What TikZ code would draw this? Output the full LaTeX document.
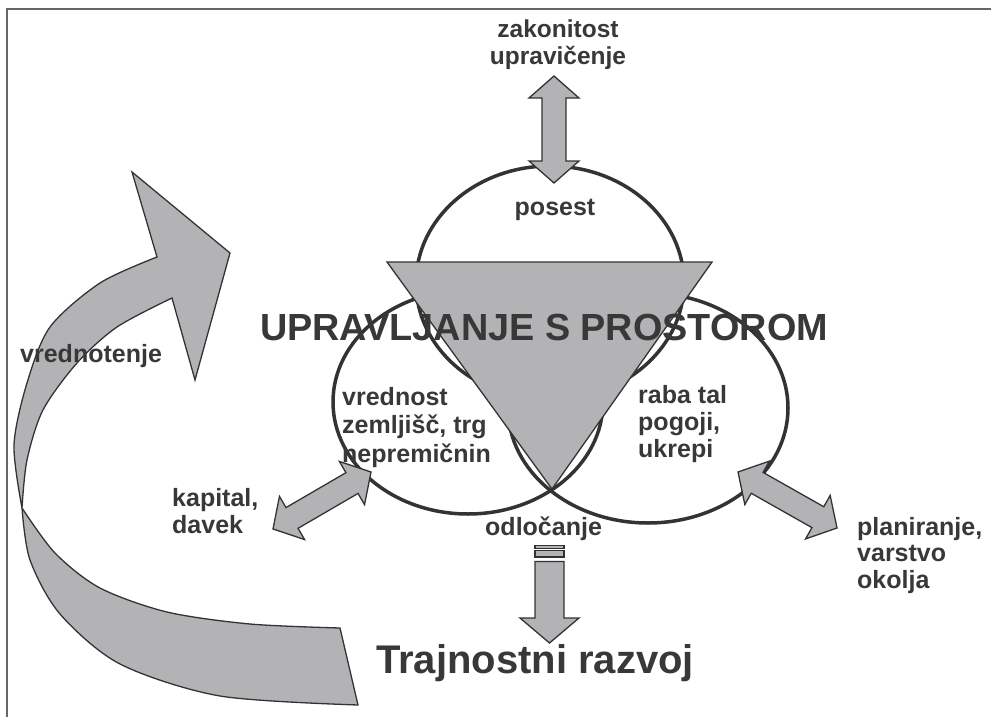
\documentclass[tikz,border=0pt]{standalone}
\usepackage{fontspec}
\setmainfont{Liberation Sans}
\usepackage{tikz}
\usetikzlibrary{calc,shapes.geometric}
\definecolor{ink}{HTML}{333333}
\definecolor{arr}{HTML}{B3B3B6}
\definecolor{txt}{HTML}{383838}
\newcommand{\dblarrow}[2]{%
  \coordinate (h1) at ($(#1)!22pt!(#2)$);
  \coordinate (h2) at ($(#2)!22pt!(#1)$);
  \filldraw[blockarr] (#1)
    -- ($(h1)!25pt!-90:(#1)$) -- ($(h1)!12pt!-90:(#1)$)
    -- ($(h2)!12pt!90:(#2)$) -- ($(h2)!25pt!90:(#2)$)
    -- (#2)
    -- ($(h2)!25pt!-90:(#2)$) -- ($(h2)!12pt!-90:(#2)$)
    -- ($(h1)!12pt!90:(#1)$) -- ($(h1)!25pt!90:(#1)$) -- cycle;
}
\begin{document}
\begin{tikzpicture}[x=1pt,y=-1pt,
  lbl/.style={font=\bfseries\fontsize{25}{27}\selectfont, text=txt, inner sep=0pt, align=left},
  ring/.style={ellipse, draw=ink, line width=3.5pt, inner sep=0pt, outer sep=0pt},
  blockarr/.style={fill=arr, draw=ink, line width=1.3pt, line join=miter}]
\useasboundingbox (0,0) rectangle (991,717);
\draw[gray!80!black, line width=1.5pt] (7,717) -- (7,9) -- (991,9);

\filldraw[blockarr] (230,253) -- (195,380) -- (172,298)
  -- plot[smooth] coordinates {(172,298) (117,327) (77,363) (43,410) (27,460) (22,508)}
  -- plot[smooth] coordinates {(22,508) (55,553) (100,588) (167,612) (250,624) (340,628)}
  -- (358,705)
  -- plot[smooth] coordinates {(358,705) (220,696) (120,664) (60,614) (30,560) (22,508)}
  -- plot[smooth] coordinates {(22,508) (14,445) (27,383) (50,327) (100,283) (157,257)}
  -- (132,172) -- cycle;
\node[lbl, anchor=base west] (vredn) at (20,362) {vrednotenje};

\node[ring, minimum width=268pt, minimum height=234pt] (posestE) at (550,283) {};
\node[ring, minimum width=270pt, minimum height=224pt] (vrednE) at (468,402) {};
\node[ring, minimum width=280pt, minimum height=230pt] (rabaE) at (648,408) {};
\filldraw[fill=arr, draw=ink, line width=1.3pt] (387,262) -- (712,262) -- (552,489) -- cycle;

\coordinate (zakE) at (554,76);
\coordinate (posE) at (554,183);
\coordinate (kapE) at (273,529);
\coordinate (vreE) at (371,472);
\coordinate (rabE) at (738,472);
\coordinate (plaE) at (837,528);
\dblarrow{zakE}{posE}
\dblarrow{kapE}{vreE}
\dblarrow{rabE}{plaE}

\coordinate (odlE) at (549.5,545.5);
\coordinate (traE) at (549.5,643);
\filldraw[blockarr] ($(odlE)+(-14.5,0)$) rectangle ++(29,2.8);
\filldraw[blockarr] ($(odlE)+(-14.5,5)$) rectangle ++(29,6.6);
\filldraw[blockarr] ($(odlE)+(-14.5,16)$) -- ($(traE)+(-14.5,-25)$) -- ($(traE)+(-29.5,-25)$)
  -- (traE) -- ($(traE)+(29.5,-25)$) -- ($(traE)+(14.5,-25)$) -- ($(odlE)+(14.5,16)$) -- cycle;

\node[lbl, align=center, font=\bfseries\fontsize{24.5}{27}\selectfont, anchor=base] (zak) at (558,65) {zakonitost\\upravičenje};
\node[lbl, anchor=base] (posest) at (555,215) {posest};
\node[lbl, font=\bfseries\fontsize{25}{28.5}\selectfont, anchor=base west] (vrednost) at (342,462) {vrednost\\zemljišč, trg\\nepremičnin};
\node[lbl, anchor=base west] (raba) at (638,457) {raba tal\\pogoji,\\ukrepi};
\node[lbl, anchor=base west] (kapital) at (172,533) {kapital,\\davek};
\node[lbl, anchor=base west] (odl) at (485,535) {odločanje};
\node[lbl, font=\bfseries\fontsize{25}{26.5}\selectfont, anchor=base west] (plan) at (857,588) {planiranje,\\varstvo\\okolja};
\node[lbl, font=\bfseries\fontsize{40}{44}\selectfont, anchor=base] (trajn) at (535,673) {Trajnostni razvoj};
\node[lbl, font=\bfseries\fontsize{37.8}{40}\selectfont, anchor=base] (upr) at (544,340) {UPRAVLJANJE S PROSTOROM};
\end{tikzpicture}
\end{document}
